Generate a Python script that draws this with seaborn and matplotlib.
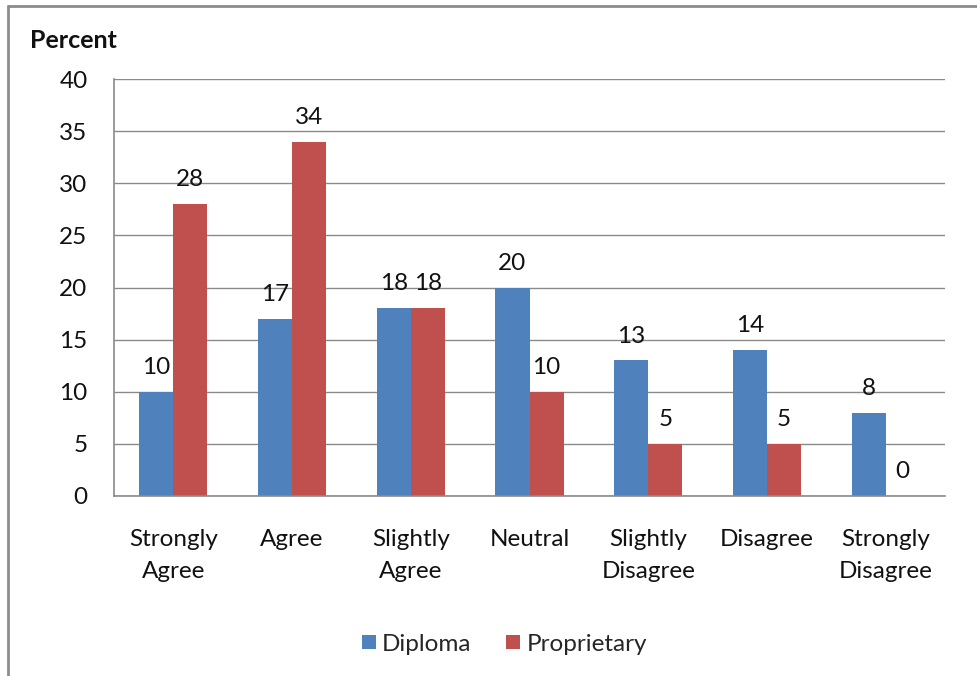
import matplotlib
matplotlib.use("Agg")
import matplotlib.pyplot as plt
from matplotlib.lines import Line2D
import seaborn as sns
import pandas as pd

categories = ["Strongly\nAgree", "Agree", "Slightly\nAgree", "Neutral",
              "Slightly\nDisagree", "Disagree", "Strongly\nDisagree"]
diploma = [10, 17, 18, 20, 13, 14, 8]
proprietary = [28, 34, 18, 10, 5, 5, 0]
series_names = ["Diploma", "Proprietary"]
y_ticks = [0, 5, 10, 15, 20, 25, 30, 35, 40]

df = pd.DataFrame({
    "category": categories * 2,
    "value": diploma + proprietary,
    "series": [series_names[0]] * len(categories) + [series_names[1]] * len(categories),
})

sns.set_style("white")
plt.rcParams["font.family"] = ["Lato", "DejaVu Sans"]

FS = 17.5
fig = plt.figure(figsize=(9.77, 6.76), dpi=100)
ax = fig.add_axes([114 / 977, 1 - 496 / 676, (945 - 114) / 977, (496 - 79) / 676])

palette = {"Diploma": "#4F81BD", "Proprietary": "#C0504D"}
sns.barplot(data=df, x="category", y="value", hue="series", palette=palette,
            width=0.575, saturation=1, ax=ax, order=categories,
            hue_order=series_names, linewidth=0)

for cont in ax.containers:
    ax.bar_label(cont, fmt="%d", padding=10, fontsize=FS, color="#111111")

ax.set_ylim(0, 40)
ax.set_yticks(y_ticks)
ax.set_xlim(-0.5, len(categories) - 0.5)
ax.yaxis.grid(True, color="#8a8a8a", linewidth=1.0)
ax.set_axisbelow(True)
ax.set_xlabel("")
ax.set_ylabel("")
ax.tick_params(axis="y", length=0, pad=19, labelsize=FS, labelcolor="#111111")
ax.tick_params(axis="x", length=0, pad=24, labelsize=FS, labelcolor="#111111")
for lbl in ax.get_xticklabels():
    lbl.set_linespacing(1.6)
for side in ["top", "right"]:
    ax.spines[side].set_visible(False)
for side in ["left", "bottom"]:
    ax.spines[side].set_color("#8a8a8a")
    ax.spines[side].set_linewidth(1.2)

ax.legend_.remove()
handles = [Line2D([0], [0], marker="s", linestyle="", markersize=10,
                  markerfacecolor=palette[n], markeredgewidth=0) for n in series_names]
fig.legend(handles, series_names, loc="center", bbox_to_anchor=(503 / 977, 1 - 644 / 676),
           ncol=2, frameon=False, fontsize=FS, handletextpad=0.15, columnspacing=1.3,
           handlelength=0.8)

fig.text(30 / 977, 1 - 40 / 676, "Percent", fontsize=18, fontweight="bold",
         ha="left", va="center", color="#111111")

# outer chart frame (left and top edges)
fig.add_artist(Line2D([8 / 977, 8 / 977], [0, 1 - 6 / 676], transform=fig.transFigure,
                      color="#8c8c8c", linewidth=2))
fig.add_artist(Line2D([8 / 977, 1], [1 - 6 / 676, 1 - 6 / 676], transform=fig.transFigure,
                      color="#8c8c8c", linewidth=2))

fig.savefig("out.png", dpi=100, facecolor="white")
